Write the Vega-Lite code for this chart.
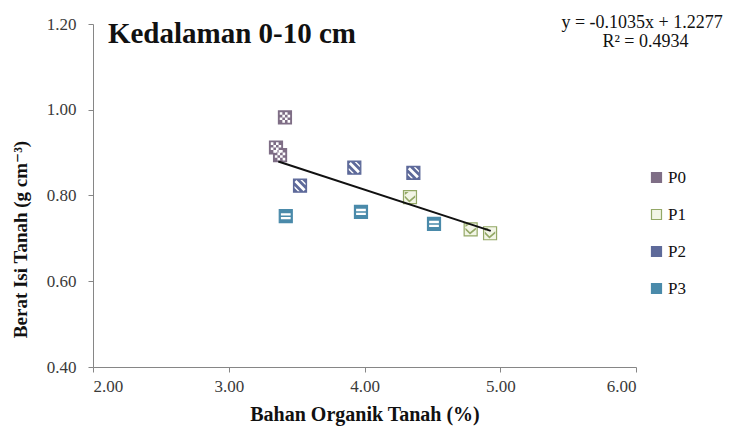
{
  "$schema": "https://vega.github.io/schema/vega-lite/v6.json",
  "width": 543,
  "height": 343,
  "autosize": "none",
  "padding": {"left": 93, "top": 24, "right": 103, "bottom": 69},
  "background": "white",
  "config": {
    "view": {"stroke": null},
    "font": "'Liberation Serif', 'DejaVu Serif', serif",
    "axis": {
      "grid": false,
      "domainColor": "#868686",
      "tickColor": "#868686",
      "tickSize": 5,
      "labelFont": "'Liberation Serif', 'DejaVu Serif', serif",
      "labelFontSize": 17,
      "labelColor": "#3a3a3a",
      "titleFont": "'Liberation Serif', 'DejaVu Serif', serif",
      "titleFontSize": 19,
      "titleFontWeight": "bold",
      "titleColor": "#111111"
    },
    "legend": {
      "labelFont": "'Liberation Serif', 'DejaVu Serif', serif",
      "labelFontSize": 17,
      "labelColor": "#111111"
    }
  },
  "datasets": {
    "pts": [
      {"series": "P0", "bo": 3.414, "bi": 0.982},
      {"series": "P0", "bo": 3.348, "bi": 0.912},
      {"series": "P0", "bo": 3.378, "bi": 0.894},
      {"series": "P1", "bo": 4.335, "bi": 0.796},
      {"series": "P1", "bo": 4.782, "bi": 0.721},
      {"series": "P1", "bo": 4.925, "bi": 0.712},
      {"series": "P2", "bo": 3.925, "bi": 0.865},
      {"series": "P2", "bo": 4.36, "bi": 0.853},
      {"series": "P2", "bo": 3.525, "bi": 0.823},
      {"series": "P3", "bo": 3.42, "bi": 0.752},
      {"series": "P3", "bo": 3.974, "bi": 0.762},
      {"series": "P3", "bo": 4.512, "bi": 0.734}
    ],
    "trend": [
      {"bo": 3.365, "bi": 0.8794},
      {"bo": 4.93, "bi": 0.7174}
    ]
  },
  "resolve": {"legend": {"shape": "independent"}, "scale": {"shape": "independent"}},
  "layer": [
    {
      "data": {"name": "pts"},
      "mark": {"type": "point", "shape": "square", "filled": true, "size": 169, "strokeWidth": 1.2, "opacity": 1},
      "encoding": {
        "x": {"field": "bo", "type": "quantitative", "scale": {"domain": [2, 6], "nice": false, "zero": false},
          "axis": {"values": [2, 3, 4, 5, 6], "format": ".2f", "title": "Bahan Organik Tanah (%)", "titleFontSize": 20, "labelPadding": 6, "titlePadding": 10}},
        "y": {"field": "bi", "type": "quantitative", "scale": {"domain": [0.4, 1.2], "nice": false, "zero": false},
          "axis": {"values": [0.4, 0.6, 0.8, 1.0, 1.2], "format": ".2f", "title": "Berat Isi Tanah (g cm⁻³)", "labelPadding": 12, "titleY": 215, "titlePadding": 16}},
        "fill": {"field": "series", "type": "nominal",
          "scale": {"domain": ["P0", "P1", "P2", "P3"], "range": ["#7F6E86", "#F2F5E6", "#5E6A9A", "#4A8AAA"]},
          "legend": {"title": null, "orient": "none", "legendX": 555, "legendY": 145, "symbolType": "square", "symbolSize": 100, "symbolStrokeWidth": 1.2, "rowPadding": 19, "labelOffset": 3}},
        "stroke": {"field": "series", "type": "nominal",
          "scale": {"domain": ["P0", "P1", "P2", "P3"], "range": ["#7F6E86", "#93A866", "#5E6A9A", "#4A8AAA"]},
          "legend": {"title": null, "orient": "none", "legendX": 555, "legendY": 145, "symbolType": "square", "symbolSize": 100, "symbolStrokeWidth": 1.2, "rowPadding": 19, "labelOffset": 3}}
      }
    },
    {
      "data": {"name": "pts"},
      "mark": {"type": "point", "filled": true, "size": 169, "strokeWidth": 0, "opacity": 1},
      "encoding": {
        "x": {"field": "bo", "type": "quantitative"},
        "y": {"field": "bi", "type": "quantitative"},
        "shape": {"field": "series", "type": "nominal", "legend": null,
          "scale": {"domain": ["P0", "P1", "P2", "P3"], "range": [
            "M-0.8,-0.8h0.4v0.4h-0.4z M0,-0.8h0.4v0.4h-0.4z M-0.4,-0.4h0.4v0.4h-0.4z M0.4,-0.4h0.4v0.4h-0.4z M-0.8,0h0.4v0.4h-0.4z M0,0h0.4v0.4h-0.4z M-0.4,0.4h0.4v0.4h-0.4z M0.4,0.4h0.4v0.4h-0.4z",
            "M-0.8,-0.25 L-0.1,0.45 L0.8,-0.3 L0.8,0.05 L-0.1,0.8 L-0.8,0.1 Z M-0.8,-0.8 L-0.2,-0.8 L-0.8,-0.35 Z",
            "M-0.85,-0.55 L-0.55,-0.85 L0.85,0.55 L0.55,0.85 Z M0.05,-0.85 L0.35,-0.85 L0.85,-0.35 L0.85,-0.05 Z M-0.85,0.05 L-0.85,0.35 L-0.35,0.85 L-0.05,0.85 Z",
            "M-0.75,-0.45H0.75V-0.1H-0.75Z M-0.75,0.15H0.75V0.5H-0.75Z"
          ]}},
        "fill": {"condition": {"test": "datum.series === 'P1'", "value": "#93A866"}, "value": "#FFFFFF"}
      }
    },
    {
      "data": {"name": "trend"},
      "mark": {"type": "line", "color": "#111111", "strokeWidth": 2},
      "encoding": {
        "x": {"field": "bo", "type": "quantitative"},
        "y": {"field": "bi", "type": "quantitative"}
      }
    },
    {
      "data": {"values": [{}]},
      "mark": {"type": "text", "text": "Kedalaman 0-10 cm", "font": "'Liberation Serif', 'DejaVu Serif', serif", "fontSize": 29, "fontWeight": "bold", "align": "left", "baseline": "alphabetic", "color": "#111111", "clip": false},
      "encoding": {"x": {"datum": 2.11}, "y": {"datum": 1.1557}}
    },
    {
      "data": {"values": [{}]},
      "mark": {"type": "text", "text": "y = -0.1035x  + 1.2277", "font": "'Liberation Serif', 'DejaVu Serif', serif", "fontSize": 18, "align": "center", "baseline": "alphabetic", "color": "#111111", "clip": false},
      "encoding": {"x": {"datum": 6.045}, "y": {"datum": 1.19}}
    },
    {
      "data": {"values": [{}]},
      "mark": {"type": "text", "text": "R² = 0.4934", "font": "'Liberation Serif', 'DejaVu Serif', serif", "fontSize": 18, "align": "center", "baseline": "alphabetic", "color": "#111111", "clip": false},
      "encoding": {"x": {"datum": 6.07}, "y": {"datum": 1.147}}
    }
  ]
}
